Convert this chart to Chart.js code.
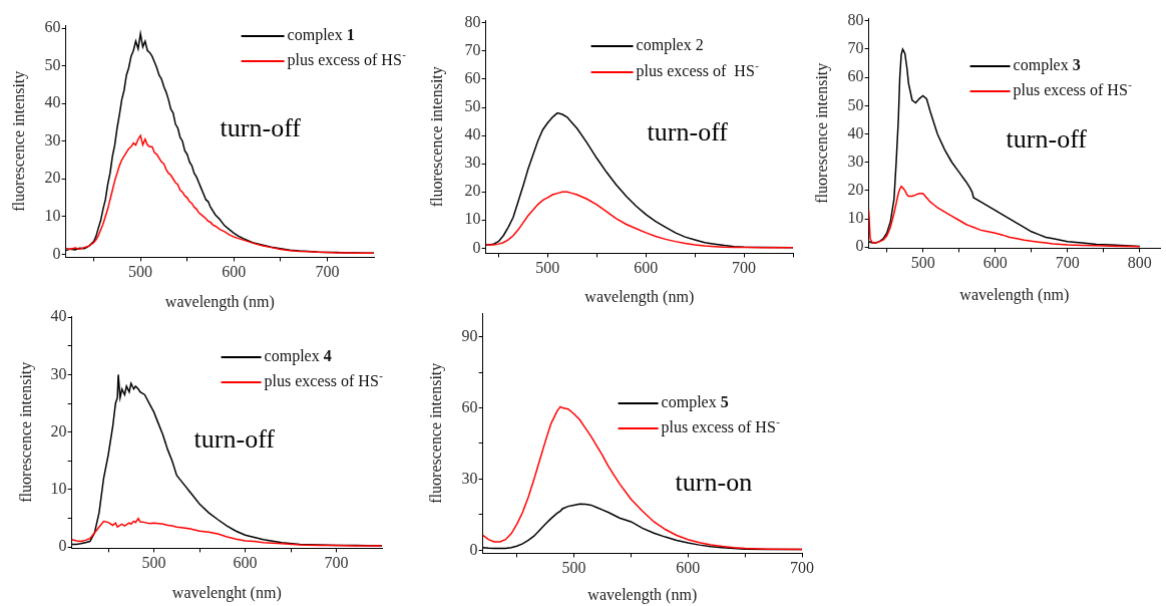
<!DOCTYPE html>
<html>
<head>
<meta charset="utf-8">
<script src="https://cdn.jsdelivr.net/npm/chart.js@4/dist/chart.umd.min.js"></script>
<style>
html, body { margin: 0; padding: 0; background: #fff; }
body { width: 1166px; height: 606px; position: relative; overflow: hidden; font-family: 'Liberation Serif', serif; }
canvas { position: absolute; }
</style>
</head>
<body>
<canvas id="p1"></canvas>
<canvas id="p2"></canvas>
<canvas id="p3"></canvas>
<canvas id="p4"></canvas>
<canvas id="p5"></canvas>
<script>
// complex 1
const wl1 = [420,425,430,435,440,445,450,452.5,455,457.5,460,462.5,465,467.5,470,472.5,475,477.5,480,482.5,485,487.5,490,492.5,495,497.5,500,502.5,505,507.5,510,512.5,515,517.5,520,522.5,525,527.5,530,532.5,535,537.5,540,542.5,545,547.5,550,552.5,555,557.5,560,562.5,565,567.5,570,572.5,575,577.5,580,585,590,595,600,605,610,620,630,640,650,660,670,680,690,700,710,720,730,740,750]
const complex1 = [1.0,1.4,1.2,1.6,1.5,2.2,3.4,4.8,7,9,12,14.5,18.5,21.5,26,29,33.5,37,41,43.5,47.5,49.5,52.5,54,56.5,54.5,58.5,55,56.5,54,53.5,52.5,51,49.5,47.5,46.5,44.5,43,41,38.5,37.5,34.5,33.5,31,30,27.5,26.5,24.5,23.5,21.5,20.5,19,17.5,16,14.5,14,12.5,11.5,10.5,9.2,7.6,6.6,5.6,4.8,4.2,3.1,2.5,1.9,1.5,1.1,0.9,0.8,0.6,0.5,0.5,0.4,0.4,0.3,0.3]
const hs1 = [1.6,1.3,1.7,1.4,1.8,2.2,3.1,3.9,5,6.5,8,10,12,14.5,17,19.5,21.5,23.5,25,26,27,28,28.5,29.5,29,30.5,31.5,29,30.5,29,28.5,28.5,27,26.5,25.5,24.5,24,22.5,21.5,21,20,19,18.5,17,16.5,15.5,15,14,13.5,12.5,12,11,10.5,10,9.5,8.8,8.5,7.8,7.5,6.6,6,5.2,4.6,4.2,3.8,3,2.3,1.8,1.3,1,0.8,0.7,0.6,0.5,0.4,0.4,0.3,0.3,0.3]

// complex 2
const wl2 = [437,440,445,450,455,460,465,470,475,480,485,490,495,500,505,510,515,520,525,530,540,550,560,570,580,590,600,610,620,630,640,650,660,670,680,690,700,720,750]
const complex2 = [1.2,1.2,1.5,2.4,4.5,7.5,11,16.5,22,28,33,38,42,44.5,46.5,48,47.5,46.5,44.5,42.5,37.5,32,27,22.5,18.5,15,12,9.5,7.5,5.5,4,3,2,1.5,1,0.6,0.4,0.3,0.2]
const hs2 = [1.2,1.2,1.2,1.5,2,3,4.5,6.5,9,11.5,13.5,15.5,17,18,19,19.5,20,20,19.5,19,17.5,15.5,13,10.5,8.5,7,5.5,4.2,3.2,2.4,1.7,1.2,0.8,0.6,0.4,0.3,0.3,0.2,0.2]

// complex 3
const wl3 = [425,427,430,435,440,445,450,455,460,463,466,468,470,472,475,478,480,485,490,495,500,505,510,515,520,530,540,550,560,565,568,570,580,590,600,610,620,630,640,650,660,670,680,690,700,720,740,760,780,800]
const complex3 = [2,1.8,1.5,1.5,2,3,5,9,17,30,45,60,68,70,68.5,63,58,52,51,52.5,53.5,52.5,48,44,40,34.5,30,26.5,23,21,19.5,17.5,16,14.5,13,11.5,10,8.5,7,5.5,4.5,3.5,3,2.5,2,1.5,1,0.8,0.5,0.3]
const hs3 = [13,3,1.5,1.5,2,2.5,4,7,12,15.5,19,20.5,21.5,21,20,18.5,18,18,18.5,19,19,17.5,16,15,14,12.5,11,9.5,8,7.5,7.2,7,6,5.5,5,4.3,3.5,3,2.5,2.1,1.8,1.5,1.2,1,0.8,0.6,0.5,0.4,0.3,0.2]

// complex 4
const wl4 = [410,415,420,425,430,435,440,445,450,455,458,460,461,463,465,468,470,473,475,478,480,483,485,490,495,500,505,510,515,520,525,530,540,550,560,570,580,590,600,610,620,640,660,680,700,720,750]
const complex4 = [0.5,0.5,0.6,0.8,1,2.5,6,12,16,21,25,26,30,26,27.5,26.5,28,27,28.5,27.5,28,27.5,27,26.5,25,23.5,21.5,19.5,17,15,12.5,11.5,9.5,7.5,6,4.8,3.7,2.8,2.1,1.7,1.3,0.8,0.5,0.4,0.3,0.3,0.2]
const hs4 = [1.3,1.1,1,1.2,1.5,2.5,3.5,4.5,4.3,3.8,4.2,3.5,3.6,3.8,4,3.7,3.9,4.2,4,4.5,4.3,5,4.4,4.3,4.1,4.2,4.1,4,3.8,3.7,3.5,3.4,3.2,2.8,2.6,2.3,1.8,1.4,1.1,1,0.8,0.6,0.4,0.3,0.3,0.2,0.2]

// complex 5
const wl5 = [420,425,430,435,440,445,450,455,460,465,470,475,480,485,488,490,495,500,505,510,515,520,525,530,540,550,560,570,580,590,600,610,620,630,640,650,670,700]
const complex5 = [1.1,0.9,0.8,0.8,0.8,1.1,1.7,2.7,4.2,6,8.5,11,13.4,15.5,16.5,17.5,18.5,19,19.5,19.4,19,18,17,16,13.6,12,9.3,7.2,5.6,4.2,3.1,2.2,1.5,1.1,0.8,0.5,0.4,0.3]
const hs5 = [6.3,4.5,3.5,3.5,4.5,7,11,16,22.5,30,38,46,53.5,58.5,60.5,60,59.5,57.5,55,51.5,48,44,40,35.5,28,21.5,16.5,12,8.8,6.3,4.5,3.2,2.3,1.6,1.1,0.8,0.5,0.3]

// ticks
const xTicks1 = [450,500,550,600,650,700]
const yTicks1 = [0,10,20,30,40,50,60]
const xTicks2 = [450,500,550,600,650,700,750]
const yTicks2 = [0,10,20,30,40,50,60,70,80]
const xTicks3 = [450,500,550,600,650,700,750,800]
const yTicks3 = [0,10,20,30,40,50,60,70,80]
const xTicks4 = [450,500,550,600,650,700]
const yTicks4 = [0,5,10,15,20,25,30,35,40]
const yLabels4 = [0,10,20,30,40]
const xTicks5 = [450,500,550,600,650,700]
const yTicks5 = [0,15,30,45,60,75,90]
const yLabels5 = [0,30,60,90]

const FONT = '"Liberation Serif", "DejaVu Serif", serif'
const titleSize = 16
const titleLH = titleSize * 1.2

function pts(xs, ys) {
    return xs.map((x, i) => ({x: x, y: ys[i]}))
}

function makePanel(p) {
    const yW = p.yOff + titleLH / 2
    const xH = p.xOff + titleLH / 2
    const padT = 14, padR = p.padR || 18
    const w = p.box.right - p.box.left + yW + padR
    const h = p.box.bottom - p.box.top + padT + xH
    const cl = p.box.left - yW
    const ct = p.box.top - padT
    const canvas = document.getElementById(p.id)
    canvas.width = w
    canvas.height = h
    canvas.style.width = w + 'px'
    canvas.style.height = h + 'px'
    canvas.style.left = cl + 'px'
    canvas.style.top = ct + 'px'

    const notes = {
        id: 'notes',
        afterDraw(chart) {
            const ctx = chart.ctx
            ctx.save()
            ctx.textBaseline = 'middle'
            ctx.textAlign = 'left'
            p.legend.forEach(item => {
                const y = item.y - ct
                ctx.strokeStyle = item.color
                ctx.lineWidth = 2
                ctx.beginPath()
                ctx.moveTo(item.x1 - cl, y)
                ctx.lineTo(item.x2 - cl, y)
                ctx.stroke()
                ctx.fillStyle = '#111'
                let x = item.x2 - cl + 3
                ctx.font = '16px ' + FONT
                ctx.fillText(item.text, x, y)
                x += ctx.measureText(item.text).width
                if (item.bold) {
                    ctx.font = 'bold 16px ' + FONT
                    ctx.fillText(item.bold, x, y)
                }
                if (item.sup) {
                    ctx.font = '11px ' + FONT
                    ctx.fillText(item.sup, x + 0.5, y - 6)
                }
            })
            ctx.font = '26px ' + FONT
            ctx.fillStyle = '#000'
            ctx.fillText(p.note.text, p.note.x - cl, p.note.y - ct)
            ctx.restore()
        }
    }

    const tickFont = {family: FONT, size: 16}
    const titleFont = {family: FONT, size: titleSize}

    new Chart(canvas, {
        type: 'line',
        data: {
            datasets: [
                {data: pts(p.wlRed, p.red), borderColor: '#ff0000', order: 0},
                {data: pts(p.wlBlack, p.black), borderColor: '#000000', order: 1}
            ]
        },
        options: {
            responsive: false,
            animation: false,
            events: [],
            layout: {padding: {top: padT, right: padR, left: 0, bottom: 0}},
            elements: {
                point: {radius: 0},
                line: {borderWidth: 1.5, tension: 0, fill: false}
            },
            plugins: {legend: {display: false}, tooltip: {enabled: false}},
            scales: {
                x: {
                    type: 'linear',
                    min: p.xMin,
                    max: p.xMax,
                    afterBuildTicks: s => { s.ticks = p.xTicks.map(v => ({value: v})) },
                    afterFit: s => { s.height = xH },
                    ticks: {
                        callback: v => (v % 100 === 0 ? v : ''),
                        font: tickFont, color: '#333', padding: 2,
                        maxRotation: 0, autoSkip: false
                    },
                    grid: {drawOnChartArea: false, tickLength: 4, color: '#000'},
                    border: {color: '#000', width: 1},
                    title: {display: true, text: p.xTitle, font: titleFont, color: '#222', padding: 0}
                },
                y: {
                    type: 'linear',
                    min: p.yMin,
                    max: p.yMax,
                    afterBuildTicks: s => { s.ticks = p.yTicks.map(v => ({value: v})) },
                    afterFit: s => { s.width = yW },
                    ticks: {
                        callback: v => (p.yLabels.includes(v) ? v : ''),
                        font: tickFont, color: '#333', padding: 1, autoSkip: false
                    },
                    grid: {drawOnChartArea: false, tickLength: 4, color: '#000'},
                    border: {color: '#000', width: 1},
                    title: {display: true, text: 'fluorescence intensity', font: titleFont, color: '#222', padding: 0}
                }
            }
        },
        plugins: [notes]
    })
}

function drawAll() {
    makePanel({
        id: 'p1', box: {left: 66, right: 374, top: 25, bottom: 257}, padR: 40,
        xMin: 420, xMax: 750, yMin: -0.8, yMax: 60.8,
        xTicks: xTicks1, yTicks: yTicks1, yLabels: yTicks1,
        wlBlack: wl1, black: complex1, wlRed: wl1, red: hs1,
        xTitle: 'wavelength (nm)', yOff: 46, xOff: 45,
        legend: [
            {color: '#000', x1: 241, x2: 284, y: 36, text: 'complex ', bold: '1'},
            {color: '#ff0000', x1: 241, x2: 284, y: 61, text: 'plus excess of HS', sup: '-'}
        ],
        note: {text: 'turn-off', x: 220, y: 129}
    })

    makePanel({
        id: 'p2', box: {left: 486, right: 793, top: 20, bottom: 253},
        xMin: 437, xMax: 750, yMin: -1.8, yMax: 81,
        xTicks: xTicks2, yTicks: yTicks2, yLabels: yTicks2,
        wlBlack: wl2, black: complex2, wlRed: wl2, red: hs2,
        xTitle: 'wavelength (nm)', yOff: 48, xOff: 44,
        legend: [
            {color: '#000', x1: 591, x2: 633, y: 46, text: 'complex 2'},
            {color: '#ff0000', x1: 591, x2: 633, y: 72, text: 'plus excess of  HS', sup: '-'}
        ],
        note: {text: 'turn-off', x: 647, y: 133}
    })

    makePanel({
        id: 'p3', box: {left: 869, right: 1160, top: 18, bottom: 248},
        xMin: 425, xMax: 828, yMin: -0.4, yMax: 81,
        xTicks: xTicks3, yTicks: yTicks3, yLabels: yTicks3,
        wlBlack: wl3, black: complex3, wlRed: wl3, red: hs3,
        xTitle: 'wavelength (nm)', yOff: 46, xOff: 47,
        legend: [
            {color: '#000', x1: 970, x2: 1010, y: 66, text: 'complex ', bold: '3'},
            {color: '#ff0000', x1: 970, x2: 1010, y: 91, text: 'plus excess of HS', sup: '-'}
        ],
        note: {text: 'turn-off', x: 1006, y: 140}
    })

    makePanel({
        id: 'p4', box: {left: 72, right: 382, top: 316, bottom: 548}, padR: 30,
        xMin: 410, xMax: 750, yMin: -0.2, yMax: 40.2,
        xTicks: xTicks4, yTicks: yTicks4, yLabels: yLabels4,
        wlBlack: wl4, black: complex4, wlRed: wl4, red: hs4,
        xTitle: 'wavelenght (nm)', yOff: 45, xOff: 45,
        legend: [
            {color: '#000', x1: 221, x2: 261, y: 357, text: 'complex ', bold: '4'},
            {color: '#ff0000', x1: 221, x2: 261, y: 382, text: 'plus excess of HS', sup: '-'}
        ],
        note: {text: 'turn-off', x: 194, y: 440}
    })

    makePanel({
        id: 'p5', box: {left: 483, right: 802, top: 313, bottom: 553},
        xMin: 420, xMax: 700, yMin: -1.3, yMax: 100,
        xTicks: xTicks5, yTicks: yTicks5, yLabels: yLabels5,
        wlBlack: wl5, black: complex5, wlRed: wl5, red: hs5,
        xTitle: 'wavelength (nm)', yOff: 46, xOff: 42,
        legend: [
            {color: '#000', x1: 618, x2: 658, y: 403, text: 'complex ', bold: '5'},
            {color: '#ff0000', x1: 618, x2: 658, y: 428, text: 'plus excess of HS', sup: '-'}
        ],
        note: {text: 'turn-on', x: 675, y: 483}
    })
}

// make sure the serif face is ready before the canvases draw text
Promise.all([
    document.fonts.load('16px "Liberation Serif"'),
    document.fonts.load('bold 16px "Liberation Serif"')
]).then(drawAll, drawAll)
</script>
</body>
</html>
